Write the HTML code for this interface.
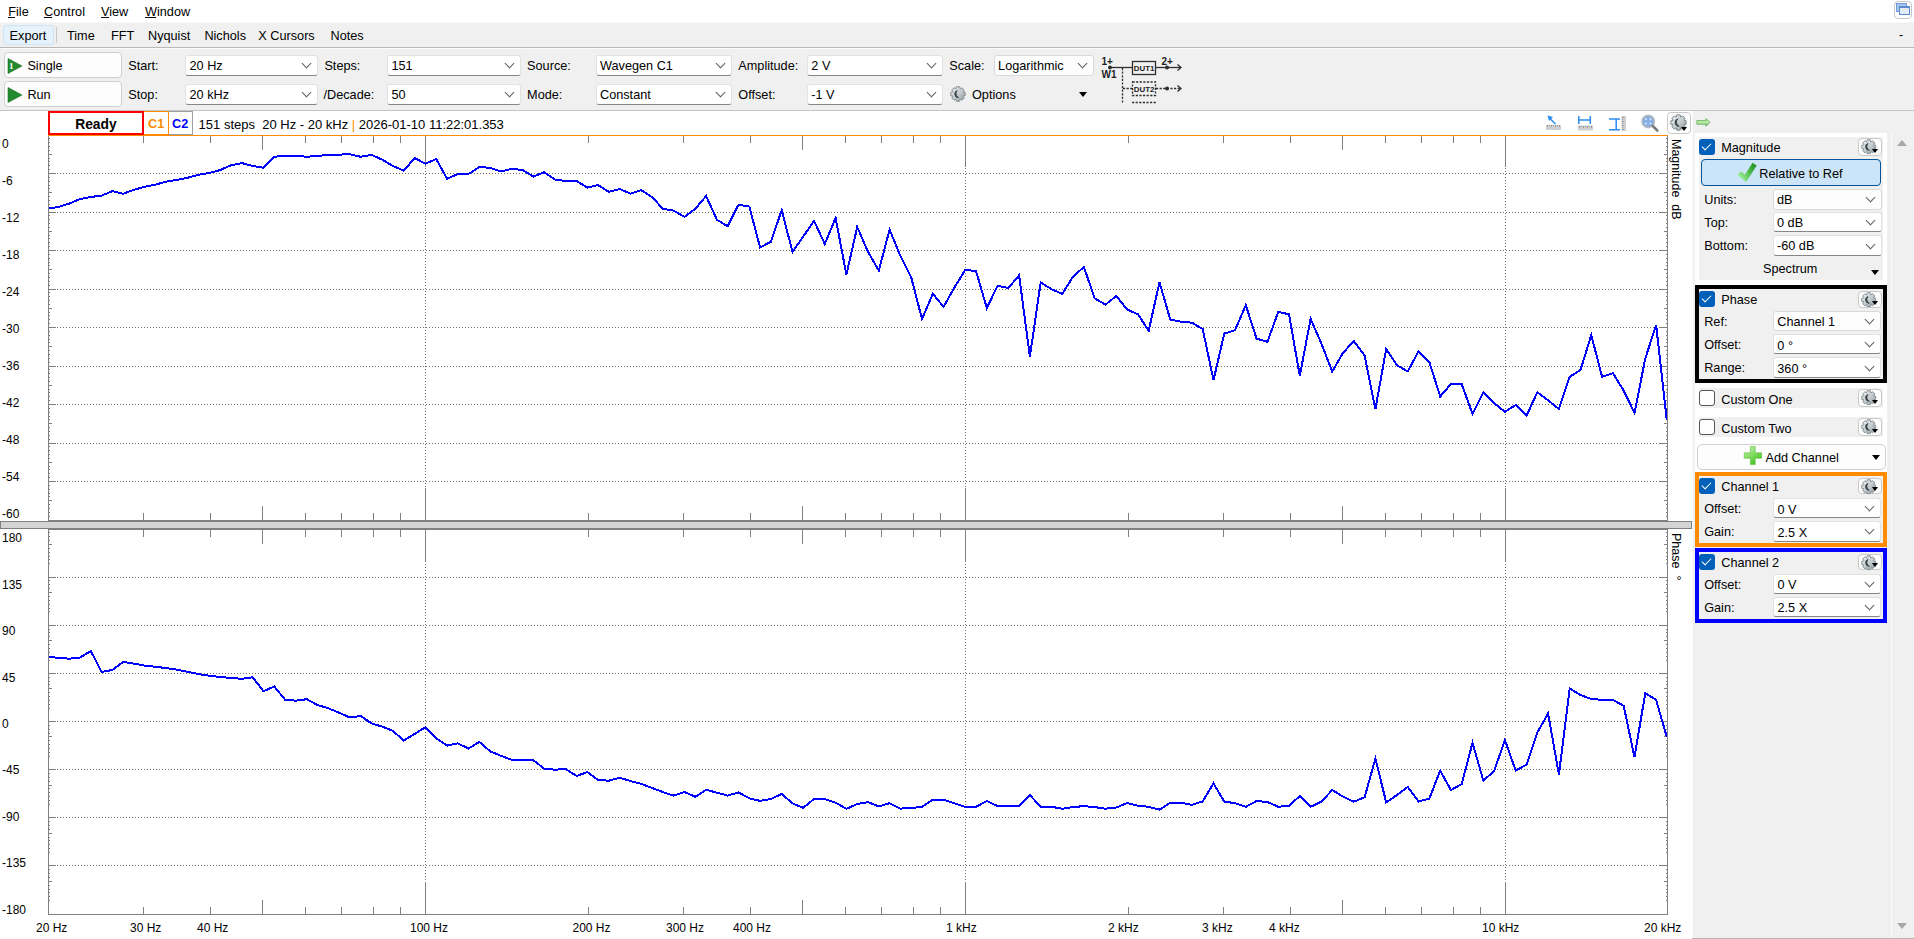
<!DOCTYPE html><html><head><meta charset="utf-8"><style>
*{margin:0;padding:0;box-sizing:border-box}
html,body{width:1914px;height:939px;overflow:hidden;background:#f0f0f0;font-family:"Liberation Sans", sans-serif;font-size:12.7px;color:#000}
.a{position:absolute}
.t{position:absolute;white-space:pre;line-height:13px;font-size:12.7px}
.cb{position:absolute;background:#fff;border:1px solid #e2e2e2;border-bottom:1px solid #868686;border-radius:3px}
.cbn{position:absolute;background:#fdfdfd;border:1px solid #d9d9d9;border-radius:3px}
.chev{position:absolute;width:7px;height:7px;border-right:1px solid #606060;border-bottom:1px solid #606060;transform:rotate(45deg)}
.btn{position:absolute;background:#fdfdfd;border:1px solid #d0d0d0;border-radius:4px}
.chk{position:absolute;width:16px;height:16px;background:#005fb8;border-radius:3px}
.chk::after{content:"";position:absolute;left:5px;top:2px;width:4px;height:8px;border-right:1.3px solid #fff;border-bottom:1.3px solid #fff;transform:rotate(45deg)}
.unchk{position:absolute;width:16px;height:16px;background:#fff;border:1px solid #555;border-radius:3px}
.grp{position:absolute;background:#f0f0f0}
.tri{position:absolute;width:0;height:0;border-left:4px solid transparent;border-right:4px solid transparent;border-top:5px solid #000}
</style></head><body><svg width="0" height="0" style="position:absolute"><defs>
<linearGradient id="gg" x1="0" y1="0" x2="1" y2="1"><stop offset="0" stop-color="#f2f4f5"/><stop offset="0.55" stop-color="#c3c8cb"/><stop offset="1" stop-color="#8d969b"/></linearGradient>
<symbol id="gear" viewBox="0 0 16 16"><path d="M13.24 6.03 L15.22 6.39 L15.22 9.61 L13.24 9.97 L13.10 10.31 L14.25 11.96 L11.96 14.25 L10.31 13.10 L9.97 13.24 L9.61 15.22 L6.39 15.22 L6.03 13.24 L5.69 13.10 L4.04 14.25 L1.75 11.96 L2.90 10.31 L2.76 9.97 L0.78 9.61 L0.78 6.39 L2.76 6.03 L2.90 5.69 L1.75 4.04 L4.04 1.75 L5.69 2.90 L6.03 2.76 L6.39 0.78 L9.61 0.78 L9.97 2.76 L10.31 2.90 L11.96 1.75 L14.25 4.04 L13.10 5.69 Z" fill="url(#gg)" stroke="#7b868c" stroke-width="0.9"/>
<path d="M7.2 4.6 A3.6 3.6 0 0 0 8.6 11.6 A4.4 4.4 0 0 1 7.2 4.6 Z" fill="#34444c" stroke="#34444c" stroke-width="0.9"/></symbol>
</defs></svg><div class="a" style="left:0;top:0;width:1914px;height:22px;background:#fff"></div><div class="a" style="left:0;top:22px;width:1914px;height:1px;background:#f7f7f7"></div><div class="t" style="left:8.3px;top:5.90px;font-size:12.7px;color:#000;font-weight:normal;">File</div><div class="a" style="left:8.3px;top:17px;width:7px;height:1px;background:#000"></div><div class="t" style="left:44.1px;top:5.90px;font-size:12.7px;color:#000;font-weight:normal;">Control</div><div class="a" style="left:44.1px;top:17px;width:8px;height:1px;background:#000"></div><div class="t" style="left:101px;top:5.90px;font-size:12.7px;color:#000;font-weight:normal;">View</div><div class="a" style="left:101px;top:17px;width:8px;height:1px;background:#000"></div><div class="t" style="left:145px;top:5.90px;font-size:12.7px;color:#000;font-weight:normal;">Window</div><div class="a" style="left:145px;top:17px;width:11px;height:1px;background:#000"></div><div class="a" style="left:1894px;top:1px;width:18px;height:18px;border:1px solid #c8c8c8;border-radius:4px;background:#fff"></div><div class="a" style="left:1896px;top:3px;width:11px;height:9px;background:#a9c4ea;border:1px solid #6f9ad8"></div><div class="a" style="left:1899px;top:6px;width:11px;height:9px;background:#e4ecf7;border:1px solid #5b8ad0;border-top:2px solid #5b8ad0"></div><div class="a" style="left:2.5px;top:24.5px;width:51px;height:20px;background:#e5f1fb;border:1px solid #cce4f7;border-radius:3px"></div><div class="a" style="left:56px;top:27px;width:1px;height:16px;background:#c8c8c8"></div><div class="t" style="left:9.6px;top:30.30px;font-size:12.7px;color:#000;font-weight:normal;">Export</div><div class="t" style="left:67px;top:30.30px;font-size:12.7px;color:#000;font-weight:normal;">Time</div><div class="t" style="left:111px;top:30.30px;font-size:12.7px;color:#000;font-weight:normal;">FFT</div><div class="t" style="left:148px;top:30.30px;font-size:12.7px;color:#000;font-weight:normal;">Nyquist</div><div class="t" style="left:204.4px;top:30.30px;font-size:12.7px;color:#000;font-weight:normal;">Nichols</div><div class="t" style="left:258.3px;top:30.30px;font-size:12.7px;color:#000;font-weight:normal;">X Cursors</div><div class="t" style="left:330.5px;top:30.30px;font-size:12.7px;color:#000;font-weight:normal;">Notes</div><div class="t" style="left:1899px;top:29.30px;font-size:12.7px;color:#000;font-weight:normal;">-</div><div class="a" style="left:0;top:47px;width:1914px;height:1px;background:#b9b9b9"></div><div class="a" style="left:0;top:48px;width:1914px;height:1px;background:#fbfbfb"></div><div class="btn" style="left:4px;top:52px;width:118px;height:26px"></div><svg class="a" style="left:7px;top:57.5px" width="16" height="16" viewBox="0 0 16 16"><path d="M1 0.5 L15 8 L1 15.5 Z" fill="#238a2e" stroke="#1a6e22" stroke-width="0.6"/><text x="2" y="11" font-family="Liberation Serif" font-weight="bold" font-size="9" fill="#fff">1</text></svg><div class="t" style="left:27.4px;top:59.90px;font-size:12.7px;color:#000;font-weight:normal;">Single</div><div class="btn" style="left:4px;top:81px;width:118px;height:26px"></div><svg class="a" style="left:7px;top:86.5px" width="16" height="16" viewBox="0 0 16 16"><path d="M1 0.5 L15 8 L1 15.5 Z" fill="#238a2e" stroke="#1a6e22" stroke-width="0.6"/></svg><div class="t" style="left:27.4px;top:88.90px;font-size:12.7px;color:#000;font-weight:normal;">Run</div><div class="t" style="left:128.3px;top:59.90px;font-size:12.7px;color:#000;font-weight:normal;">Start:</div><div class="t" style="left:128.3px;top:89.20px;font-size:12.7px;color:#000;font-weight:normal;">Stop:</div><div class="cb" style="left:185px;top:55px;width:133px;height:20.599999999999994px"></div><div class="t" style="left:189.5px;top:60.30px;font-size:12.7px;color:#000;font-weight:normal;">20 Hz</div><div class="chev" style="left:303px;top:60.3px"></div><div class="cb" style="left:185px;top:84px;width:133px;height:20.599999999999994px"></div><div class="t" style="left:189.5px;top:89.30px;font-size:12.7px;color:#000;font-weight:normal;">20 kHz</div><div class="chev" style="left:303px;top:89.3px"></div><div class="t" style="left:324.4px;top:59.90px;font-size:12.7px;color:#000;font-weight:normal;">Steps:</div><div class="t" style="left:323.5px;top:89.20px;font-size:12.7px;color:#000;font-weight:normal;">/Decade:</div><div class="cb" style="left:387px;top:55px;width:134px;height:20.599999999999994px"></div><div class="t" style="left:391.5px;top:60.30px;font-size:12.7px;color:#000;font-weight:normal;">151</div><div class="chev" style="left:506px;top:60.3px"></div><div class="cb" style="left:387px;top:84px;width:134px;height:20.599999999999994px"></div><div class="t" style="left:391.5px;top:89.30px;font-size:12.7px;color:#000;font-weight:normal;">50</div><div class="chev" style="left:506px;top:89.3px"></div><div class="t" style="left:527.1px;top:59.90px;font-size:12.7px;color:#000;font-weight:normal;">Source:</div><div class="t" style="left:527.1px;top:89.20px;font-size:12.7px;color:#000;font-weight:normal;">Mode:</div><div class="cb" style="left:595.5px;top:55px;width:136.5px;height:20.599999999999994px"></div><div class="t" style="left:600.0px;top:60.30px;font-size:12.7px;color:#000;font-weight:normal;">Wavegen C1</div><div class="chev" style="left:717px;top:60.3px"></div><div class="cb" style="left:595.5px;top:84px;width:136.5px;height:20.599999999999994px"></div><div class="t" style="left:600.0px;top:89.30px;font-size:12.7px;color:#000;font-weight:normal;">Constant</div><div class="chev" style="left:717px;top:89.3px"></div><div class="t" style="left:738.3px;top:59.90px;font-size:12.7px;color:#000;font-weight:normal;">Amplitude:</div><div class="t" style="left:738.3px;top:89.20px;font-size:12.7px;color:#000;font-weight:normal;">Offset:</div><div class="cb" style="left:806.8px;top:55px;width:136.0px;height:20.599999999999994px"></div><div class="t" style="left:811.3px;top:60.30px;font-size:12.7px;color:#000;font-weight:normal;">2 V</div><div class="chev" style="left:927.8px;top:60.3px"></div><div class="cb" style="left:806.8px;top:84px;width:136.0px;height:20.599999999999994px"></div><div class="t" style="left:811.3px;top:89.30px;font-size:12.7px;color:#000;font-weight:normal;">-1 V</div><div class="chev" style="left:927.8px;top:89.3px"></div><div class="t" style="left:949.3px;top:59.90px;font-size:12.7px;color:#000;font-weight:normal;">Scale:</div><div class="cbn" style="left:993.6px;top:54.5px;width:100.60000000000002px;height:21.099999999999994px"></div><div class="t" style="left:998.1px;top:59.80px;font-size:12.7px;color:#000;font-weight:normal;">Logarithmic</div><div class="chev" style="left:1079.2px;top:60.05px"></div><svg class="a" style="left:950px;top:86px" width="16" height="16" viewBox="0 0 16 16"><use href="#gear"/></svg><div class="t" style="left:972px;top:89.20px;font-size:12.7px;color:#000;font-weight:normal;">Options</div><div class="tri" style="left:1079px;top:92px"></div><svg class="a" style="left:1095px;top:50px" width="100" height="60" viewBox="0 0 100 60">
<g font-family="Liberation Sans" font-weight="bold" fill="#1e1e1e">
<text x="6.5" y="14.6" font-size="10">1+</text>
<text x="66.5" y="14.6" font-size="10">2+</text>
<text x="6.5" y="28.4" font-size="10">W1</text>
<text x="38.8" y="21.3" font-size="7.9">DUT1</text>
<text x="38.8" y="42.3" font-size="7.9">DUT2</text>
</g>
<g stroke="#2e2e2e" fill="none" stroke-width="1.3">
<line x1="15" y1="17.5" x2="37" y2="17.5"/>
<rect x="37.5" y="11.5" width="23" height="13"/>
<line x1="61" y1="17.5" x2="86" y2="17.5"/>
<path d="M82.5 14.5 L86 17.5 L82.5 20.5"/>
<g stroke-dasharray="2.2,1.4">
<line x1="27.5" y1="18" x2="27.5" y2="53"/>
<line x1="28" y1="38.5" x2="37" y2="38.5"/>
<rect x="37.5" y="32" width="23" height="13.5"/>
<line x1="61" y1="38.5" x2="86" y2="38.5"/>
<line x1="37" y1="52.5" x2="61" y2="52.5"/>
</g>
<path d="M82.5 35.5 L86 38.5 L82.5 41.5"/>
</g>
<circle cx="15" cy="17.5" r="2" fill="#2e2e2e"/><circle cx="72" cy="17.5" r="2" fill="#2e2e2e"/><circle cx="72" cy="38.5" r="2" fill="#2e2e2e"/>
</svg><div class="a" style="left:0;top:110px;width:1914px;height:1px;background:#c4c4c4"></div><div class="a" style="left:0;top:111px;width:1692px;height:828px;background:#fff"></div><svg class="a" style="left:0;top:0" width="1914" height="939" viewBox="0 0 1914 939"><text x="2" y="148.2" font-family="Liberation Sans" font-size="12">0</text><text x="2" y="185.2" font-family="Liberation Sans" font-size="12">-6</text><text x="2" y="222.2" font-family="Liberation Sans" font-size="12">-12</text><text x="2" y="259.2" font-family="Liberation Sans" font-size="12">-18</text><text x="2" y="296.2" font-family="Liberation Sans" font-size="12">-24</text><text x="2" y="333.2" font-family="Liberation Sans" font-size="12">-30</text><text x="2" y="370.2" font-family="Liberation Sans" font-size="12">-36</text><text x="2" y="407.2" font-family="Liberation Sans" font-size="12">-42</text><text x="2" y="444.2" font-family="Liberation Sans" font-size="12">-48</text><text x="2" y="481.2" font-family="Liberation Sans" font-size="12">-54</text><text x="2" y="518.2" font-family="Liberation Sans" font-size="12">-60</text><text x="2" y="542.4" font-family="Liberation Sans" font-size="12">180</text><text x="2" y="588.8" font-family="Liberation Sans" font-size="12">135</text><text x="2" y="635.2" font-family="Liberation Sans" font-size="12">90</text><text x="2" y="681.6" font-family="Liberation Sans" font-size="12">45</text><text x="2" y="728.0" font-family="Liberation Sans" font-size="12">0</text><text x="2" y="774.4" font-family="Liberation Sans" font-size="12">-45</text><text x="2" y="820.8" font-family="Liberation Sans" font-size="12">-90</text><text x="2" y="867.2" font-family="Liberation Sans" font-size="12">-135</text><text x="2" y="913.6" font-family="Liberation Sans" font-size="12">-180</text><path d="M48 173.5H1667 M48 212.5H1667 M48 250.5H1667 M48 289.5H1667 M48 327.5H1667 M48 366.5H1667 M48 404.5H1667 M48 443.5H1667 M48 481.5H1667 M425.5 138V520 M965.5 138V520 M1505.5 138V520 M48 577.5H1667 M48 625.5H1667 M48 673.5H1667 M48 721.5H1667 M48 769.5H1667 M48 817.5H1667 M48 865.5H1667 M425.5 531V914 M965.5 531V914 M1505.5 531V914" stroke="#6e6e6e" stroke-width="1" stroke-dasharray="1,2" fill="none" shape-rendering="crispEdges"/><path d="M48 173.5L56 173.5 M1659 173.5L1667 173.5 M48 212.5L56 212.5 M1659 212.5L1667 212.5 M48 250.5L56 250.5 M1659 250.5L1667 250.5 M48 289.5L56 289.5 M1659 289.5L1667 289.5 M48 327.5L56 327.5 M1659 327.5L1667 327.5 M48 366.5L56 366.5 M1659 366.5L1667 366.5 M48 404.5L56 404.5 M1659 404.5L1667 404.5 M48 443.5L56 443.5 M1659 443.5L1667 443.5 M48 481.5L56 481.5 M1659 481.5L1667 481.5 M48 138.5L50 138.5 M1666 138.5L1667 138.5 M48 142.5L50 142.5 M1666 142.5L1667 142.5 M48 146.5L50 146.5 M1666 146.5L1667 146.5 M48 150.5L50 150.5 M1666 150.5L1667 150.5 M48 154.5L52 154.5 M1664 154.5L1667 154.5 M48 158.5L50 158.5 M1666 158.5L1667 158.5 M48 161.5L50 161.5 M1666 161.5L1667 161.5 M48 165.5L50 165.5 M1666 165.5L1667 165.5 M48 169.5L50 169.5 M1666 169.5L1667 169.5 M48 177.5L50 177.5 M1666 177.5L1667 177.5 M48 181.5L50 181.5 M1666 181.5L1667 181.5 M48 185.5L50 185.5 M1666 185.5L1667 185.5 M48 188.5L50 188.5 M1666 188.5L1667 188.5 M48 192.5L52 192.5 M1664 192.5L1667 192.5 M48 196.5L50 196.5 M1666 196.5L1667 196.5 M48 200.5L50 200.5 M1666 200.5L1667 200.5 M48 204.5L50 204.5 M1666 204.5L1667 204.5 M48 208.5L50 208.5 M1666 208.5L1667 208.5 M48 215.5L50 215.5 M1666 215.5L1667 215.5 M48 219.5L50 219.5 M1666 219.5L1667 219.5 M48 223.5L50 223.5 M1666 223.5L1667 223.5 M48 227.5L50 227.5 M1666 227.5L1667 227.5 M48 231.5L52 231.5 M1664 231.5L1667 231.5 M48 235.5L50 235.5 M1666 235.5L1667 235.5 M48 238.5L50 238.5 M1666 238.5L1667 238.5 M48 242.5L50 242.5 M1666 242.5L1667 242.5 M48 246.5L50 246.5 M1666 246.5L1667 246.5 M48 254.5L50 254.5 M1666 254.5L1667 254.5 M48 258.5L50 258.5 M1666 258.5L1667 258.5 M48 262.5L50 262.5 M1666 262.5L1667 262.5 M48 265.5L50 265.5 M1666 265.5L1667 265.5 M48 269.5L52 269.5 M1664 269.5L1667 269.5 M48 273.5L50 273.5 M1666 273.5L1667 273.5 M48 277.5L50 277.5 M1666 277.5L1667 277.5 M48 281.5L50 281.5 M1666 281.5L1667 281.5 M48 285.5L50 285.5 M1666 285.5L1667 285.5 M48 292.5L50 292.5 M1666 292.5L1667 292.5 M48 296.5L50 296.5 M1666 296.5L1667 296.5 M48 300.5L50 300.5 M1666 300.5L1667 300.5 M48 304.5L50 304.5 M1666 304.5L1667 304.5 M48 308.5L52 308.5 M1664 308.5L1667 308.5 M48 312.5L50 312.5 M1666 312.5L1667 312.5 M48 315.5L50 315.5 M1666 315.5L1667 315.5 M48 319.5L50 319.5 M1666 319.5L1667 319.5 M48 323.5L50 323.5 M1666 323.5L1667 323.5 M48 331.5L50 331.5 M1666 331.5L1667 331.5 M48 335.5L50 335.5 M1666 335.5L1667 335.5 M48 339.5L50 339.5 M1666 339.5L1667 339.5 M48 342.5L50 342.5 M1666 342.5L1667 342.5 M48 346.5L52 346.5 M1664 346.5L1667 346.5 M48 350.5L50 350.5 M1666 350.5L1667 350.5 M48 354.5L50 354.5 M1666 354.5L1667 354.5 M48 358.5L50 358.5 M1666 358.5L1667 358.5 M48 362.5L50 362.5 M1666 362.5L1667 362.5 M48 369.5L50 369.5 M1666 369.5L1667 369.5 M48 373.5L50 373.5 M1666 373.5L1667 373.5 M48 377.5L50 377.5 M1666 377.5L1667 377.5 M48 381.5L50 381.5 M1666 381.5L1667 381.5 M48 385.5L52 385.5 M1664 385.5L1667 385.5 M48 389.5L50 389.5 M1666 389.5L1667 389.5 M48 392.5L50 392.5 M1666 392.5L1667 392.5 M48 396.5L50 396.5 M1666 396.5L1667 396.5 M48 400.5L50 400.5 M1666 400.5L1667 400.5 M48 408.5L50 408.5 M1666 408.5L1667 408.5 M48 412.5L50 412.5 M1666 412.5L1667 412.5 M48 416.5L50 416.5 M1666 416.5L1667 416.5 M48 419.5L50 419.5 M1666 419.5L1667 419.5 M48 423.5L52 423.5 M1664 423.5L1667 423.5 M48 427.5L50 427.5 M1666 427.5L1667 427.5 M48 431.5L50 431.5 M1666 431.5L1667 431.5 M48 435.5L50 435.5 M1666 435.5L1667 435.5 M48 439.5L50 439.5 M1666 439.5L1667 439.5 M48 446.5L50 446.5 M1666 446.5L1667 446.5 M48 450.5L50 450.5 M1666 450.5L1667 450.5 M48 454.5L50 454.5 M1666 454.5L1667 454.5 M48 458.5L50 458.5 M1666 458.5L1667 458.5 M48 462.5L52 462.5 M1664 462.5L1667 462.5 M48 466.5L50 466.5 M1666 466.5L1667 466.5 M48 469.5L50 469.5 M1666 469.5L1667 469.5 M48 473.5L50 473.5 M1666 473.5L1667 473.5 M48 477.5L50 477.5 M1666 477.5L1667 477.5 M48 485.5L50 485.5 M1666 485.5L1667 485.5 M48 489.5L50 489.5 M1666 489.5L1667 489.5 M48 493.5L50 493.5 M1666 493.5L1667 493.5 M48 496.5L50 496.5 M1666 496.5L1667 496.5 M48 500.5L52 500.5 M1664 500.5L1667 500.5 M48 504.5L50 504.5 M1666 504.5L1667 504.5 M48 508.5L50 508.5 M1666 508.5L1667 508.5 M48 512.5L50 512.5 M1666 512.5L1667 512.5 M48 516.5L50 516.5 M1666 516.5L1667 516.5 M48.5 135L48.5 521 M1667.5 135L1667.5 521 M143.5 135L143.5 143 M143.5 513L143.5 521 M210.5 135L210.5 143 M210.5 513L210.5 521 M262.5 135L262.5 150 M262.5 506L262.5 521 M305.5 135L305.5 143 M305.5 513L305.5 521 M341.5 135L341.5 143 M341.5 513L341.5 521 M373.5 135L373.5 143 M373.5 513L373.5 521 M400.5 135L400.5 143 M400.5 513L400.5 521 M425.5 135L425.5 167 M425.5 488L425.5 521 M588.5 135L588.5 143 M588.5 513L588.5 521 M683.5 135L683.5 143 M683.5 513L683.5 521 M750.5 135L750.5 143 M750.5 513L750.5 521 M802.5 135L802.5 150 M802.5 506L802.5 521 M845.5 135L845.5 143 M845.5 513L845.5 521 M881.5 135L881.5 143 M881.5 513L881.5 521 M913.5 135L913.5 143 M913.5 513L913.5 521 M940.5 135L940.5 143 M940.5 513L940.5 521 M965.5 135L965.5 167 M965.5 488L965.5 521 M1128.5 135L1128.5 143 M1128.5 513L1128.5 521 M1223.5 135L1223.5 143 M1223.5 513L1223.5 521 M1290.5 135L1290.5 143 M1290.5 513L1290.5 521 M1342.5 135L1342.5 150 M1342.5 506L1342.5 521 M1385.5 135L1385.5 143 M1385.5 513L1385.5 521 M1421.5 135L1421.5 143 M1421.5 513L1421.5 521 M1453.5 135L1453.5 143 M1453.5 513L1453.5 521 M1480.5 135L1480.5 143 M1480.5 513L1480.5 521 M1505.5 135L1505.5 167 M1505.5 488L1505.5 521 M48 577.5L56 577.5 M1659 577.5L1667 577.5 M48 625.5L56 625.5 M1659 625.5L1667 625.5 M48 673.5L56 673.5 M1659 673.5L1667 673.5 M48 721.5L56 721.5 M1659 721.5L1667 721.5 M48 769.5L56 769.5 M1659 769.5L1667 769.5 M48 817.5L56 817.5 M1659 817.5L1667 817.5 M48 865.5L56 865.5 M1659 865.5L1667 865.5 M48 532.5L50 532.5 M1666 532.5L1667 532.5 M48 536.5L50 536.5 M1666 536.5L1667 536.5 M48 540.5L50 540.5 M1666 540.5L1667 540.5 M48 544.5L52 544.5 M1664 544.5L1667 544.5 M48 548.5L50 548.5 M1666 548.5L1667 548.5 M48 552.5L50 552.5 M1666 552.5L1667 552.5 M48 556.5L50 556.5 M1666 556.5L1667 556.5 M48 559.5L50 559.5 M1666 559.5L1667 559.5 M48 563.5L50 563.5 M1666 563.5L1667 563.5 M48 580.5L50 580.5 M1666 580.5L1667 580.5 M48 584.5L50 584.5 M1666 584.5L1667 584.5 M48 588.5L50 588.5 M1666 588.5L1667 588.5 M48 592.5L52 592.5 M1664 592.5L1667 592.5 M48 596.5L50 596.5 M1666 596.5L1667 596.5 M48 600.5L50 600.5 M1666 600.5L1667 600.5 M48 604.5L50 604.5 M1666 604.5L1667 604.5 M48 608.5L50 608.5 M1666 608.5L1667 608.5 M48 611.5L50 611.5 M1666 611.5L1667 611.5 M48 629.5L50 629.5 M1666 629.5L1667 629.5 M48 632.5L50 632.5 M1666 632.5L1667 632.5 M48 636.5L50 636.5 M1666 636.5L1667 636.5 M48 640.5L52 640.5 M1664 640.5L1667 640.5 M48 644.5L50 644.5 M1666 644.5L1667 644.5 M48 648.5L50 648.5 M1666 648.5L1667 648.5 M48 652.5L50 652.5 M1666 652.5L1667 652.5 M48 656.5L50 656.5 M1666 656.5L1667 656.5 M48 660.5L50 660.5 M1666 660.5L1667 660.5 M48 677.5L50 677.5 M1666 677.5L1667 677.5 M48 681.5L50 681.5 M1666 681.5L1667 681.5 M48 684.5L50 684.5 M1666 684.5L1667 684.5 M48 688.5L52 688.5 M1664 688.5L1667 688.5 M48 692.5L50 692.5 M1666 692.5L1667 692.5 M48 696.5L50 696.5 M1666 696.5L1667 696.5 M48 700.5L50 700.5 M1666 700.5L1667 700.5 M48 704.5L50 704.5 M1666 704.5L1667 704.5 M48 708.5L50 708.5 M1666 708.5L1667 708.5 M48 725.5L50 725.5 M1666 725.5L1667 725.5 M48 729.5L50 729.5 M1666 729.5L1667 729.5 M48 733.5L50 733.5 M1666 733.5L1667 733.5 M48 736.5L52 736.5 M1664 736.5L1667 736.5 M48 740.5L50 740.5 M1666 740.5L1667 740.5 M48 744.5L50 744.5 M1666 744.5L1667 744.5 M48 748.5L50 748.5 M1666 748.5L1667 748.5 M48 752.5L50 752.5 M1666 752.5L1667 752.5 M48 756.5L50 756.5 M1666 756.5L1667 756.5 M48 773.5L50 773.5 M1666 773.5L1667 773.5 M48 777.5L50 777.5 M1666 777.5L1667 777.5 M48 781.5L50 781.5 M1666 781.5L1667 781.5 M48 785.5L52 785.5 M1664 785.5L1667 785.5 M48 788.5L50 788.5 M1666 788.5L1667 788.5 M48 792.5L50 792.5 M1666 792.5L1667 792.5 M48 796.5L50 796.5 M1666 796.5L1667 796.5 M48 800.5L50 800.5 M1666 800.5L1667 800.5 M48 804.5L50 804.5 M1666 804.5L1667 804.5 M48 821.5L50 821.5 M1666 821.5L1667 821.5 M48 825.5L50 825.5 M1666 825.5L1667 825.5 M48 829.5L50 829.5 M1666 829.5L1667 829.5 M48 833.5L52 833.5 M1664 833.5L1667 833.5 M48 837.5L50 837.5 M1666 837.5L1667 837.5 M48 840.5L50 840.5 M1666 840.5L1667 840.5 M48 844.5L50 844.5 M1666 844.5L1667 844.5 M48 848.5L50 848.5 M1666 848.5L1667 848.5 M48 852.5L50 852.5 M1666 852.5L1667 852.5 M48 869.5L50 869.5 M1666 869.5L1667 869.5 M48 873.5L50 873.5 M1666 873.5L1667 873.5 M48 877.5L50 877.5 M1666 877.5L1667 877.5 M48 881.5L52 881.5 M1664 881.5L1667 881.5 M48 885.5L50 885.5 M1666 885.5L1667 885.5 M48 889.5L50 889.5 M1666 889.5L1667 889.5 M48 892.5L50 892.5 M1666 892.5L1667 892.5 M48 896.5L50 896.5 M1666 896.5L1667 896.5 M48 900.5L50 900.5 M1666 900.5L1667 900.5 M48.5 529L48.5 915 M1667.5 529L1667.5 915 M143.5 529L143.5 537 M143.5 907L143.5 915 M210.5 529L210.5 537 M210.5 907L210.5 915 M262.5 529L262.5 544 M262.5 900L262.5 915 M305.5 529L305.5 537 M305.5 907L305.5 915 M341.5 529L341.5 537 M341.5 907L341.5 915 M373.5 529L373.5 537 M373.5 907L373.5 915 M400.5 529L400.5 537 M400.5 907L400.5 915 M425.5 529L425.5 561 M425.5 882L425.5 915 M588.5 529L588.5 537 M588.5 907L588.5 915 M683.5 529L683.5 537 M683.5 907L683.5 915 M750.5 529L750.5 537 M750.5 907L750.5 915 M802.5 529L802.5 544 M802.5 900L802.5 915 M845.5 529L845.5 537 M845.5 907L845.5 915 M881.5 529L881.5 537 M881.5 907L881.5 915 M913.5 529L913.5 537 M913.5 907L913.5 915 M940.5 529L940.5 537 M940.5 907L940.5 915 M965.5 529L965.5 561 M965.5 882L965.5 915 M1128.5 529L1128.5 537 M1128.5 907L1128.5 915 M1223.5 529L1223.5 537 M1223.5 907L1223.5 915 M1290.5 529L1290.5 537 M1290.5 907L1290.5 915 M1342.5 529L1342.5 544 M1342.5 900L1342.5 915 M1385.5 529L1385.5 537 M1385.5 907L1385.5 915 M1421.5 529L1421.5 537 M1421.5 907L1421.5 915 M1453.5 529L1453.5 537 M1453.5 907L1453.5 915 M1480.5 529L1480.5 537 M1480.5 907L1480.5 915 M1505.5 529L1505.5 561 M1505.5 882L1505.5 915 M48 914.5L1668 914.5 M48 520.5L1668 520.5 M48 529.5L1668 529.5" stroke="#808080" stroke-width="1" fill="none" shape-rendering="crispEdges"/><rect x="48" y="135" width="1620" height="1" fill="#ff8c00"/><rect x="0.5" y="521.5" width="1691" height="7" fill="#d4d4d4" stroke="#808080" stroke-width="1" shape-rendering="crispEdges"/><text x="36" y="931.5" font-family="Liberation Sans" font-size="12">20 Hz</text><text x="130" y="931.5" font-family="Liberation Sans" font-size="12">30 Hz</text><text x="197" y="931.5" font-family="Liberation Sans" font-size="12">40 Hz</text><text x="410" y="931.5" font-family="Liberation Sans" font-size="12">100 Hz</text><text x="572.5" y="931.5" font-family="Liberation Sans" font-size="12">200 Hz</text><text x="666" y="931.5" font-family="Liberation Sans" font-size="12">300 Hz</text><text x="733" y="931.5" font-family="Liberation Sans" font-size="12">400 Hz</text><text x="946" y="931.5" font-family="Liberation Sans" font-size="12">1 kHz</text><text x="1108" y="931.5" font-family="Liberation Sans" font-size="12">2 kHz</text><text x="1202" y="931.5" font-family="Liberation Sans" font-size="12">3 kHz</text><text x="1269" y="931.5" font-family="Liberation Sans" font-size="12">4 kHz</text><text x="1482" y="931.5" font-family="Liberation Sans" font-size="12">10 kHz</text><text x="1644" y="931.5" font-family="Liberation Sans" font-size="12">20 kHz</text><text transform="translate(1671.5,139) rotate(90)" font-family="Liberation Sans" font-size="12.5">Magnitude&#160;&#160;dB</text><text transform="translate(1671.5,533) rotate(90)" font-family="Liberation Sans" font-size="12.5">Phase&#160;&#160;°</text><defs><clipPath id="cp1"><rect x="49" y="136" width="1618" height="384"/></clipPath><clipPath id="cp2"><rect x="49" y="530" width="1618" height="384"/></clipPath></defs><polyline clip-path="url(#cp1)" points="47.6,208.8 58.4,207.0 69.2,203.6 80.0,199.0 90.8,197.0 101.6,195.6 112.4,191.2 123.2,193.8 134.0,189.7 144.8,186.8 155.6,184.6 166.3,181.7 177.1,179.8 187.9,177.7 198.7,174.8 209.5,172.9 220.3,170.0 231.1,165.2 241.9,163.1 252.7,166.0 263.5,167.8 274.3,156.8 285.1,155.8 295.9,155.8 306.7,156.8 317.5,155.8 328.3,155.1 339.1,154.6 349.9,154.2 360.7,156.8 371.5,154.9 382.2,159.7 393.0,166.0 403.8,170.7 414.6,158.0 425.4,163.7 436.2,159.0 447.0,178.8 457.8,174.1 468.6,173.9 479.4,167.1 490.2,167.8 501.0,171.5 511.8,168.8 522.6,170.0 533.4,176.6 544.2,172.2 555.0,179.5 565.8,181.0 576.6,181.0 587.4,187.6 598.1,185.1 608.9,191.9 619.7,189.0 630.5,193.7 641.3,190.2 652.1,197.1 662.9,208.8 673.7,210.7 684.5,216.8 695.3,208.8 706.1,196.0 716.9,219.7 727.7,226.3 738.5,204.8 749.3,206.6 760.1,247.5 770.9,241.7 781.7,210.2 792.5,251.9 803.2,236.6 814.0,220.9 824.8,243.9 835.6,218.0 846.4,274.6 857.2,227.0 868.0,251.8 878.8,270.5 889.6,229.6 900.4,256.0 911.2,277.3 922.0,319.1 932.8,293.8 943.6,306.8 954.4,287.5 965.2,270.0 976.0,271.0 986.8,308.0 997.6,285.8 1008.4,288.0 1019.1,275.3 1029.9,356.6 1040.7,282.4 1051.5,289.2 1062.3,293.8 1073.1,276.5 1083.9,267.1 1094.7,298.3 1105.5,304.6 1116.3,296.0 1127.1,309.5 1137.9,314.2 1148.7,330.7 1159.5,282.2 1170.3,319.6 1181.1,321.7 1191.9,322.7 1202.7,329.0 1213.5,380.1 1224.3,333.6 1235.0,330.2 1245.8,305.2 1256.6,338.7 1267.4,341.8 1278.2,312.0 1289.0,314.2 1299.8,375.9 1310.6,318.8 1321.4,343.5 1332.2,371.6 1343.0,352.9 1353.8,341.0 1364.6,355.4 1375.4,409.1 1386.2,349.0 1397.0,365.4 1407.8,371.4 1418.6,351.2 1429.4,362.2 1440.2,396.5 1450.9,384.1 1461.7,384.1 1472.5,413.8 1483.3,392.2 1494.1,403.1 1504.9,411.9 1515.7,405.0 1526.5,415.9 1537.3,392.2 1548.1,400.2 1558.9,409.0 1569.7,376.8 1580.5,369.9 1591.3,335.1 1602.1,376.8 1612.9,373.1 1623.7,390.7 1634.5,412.9 1645.3,358.5 1656.1,324.9 1666.8,420.0" fill="none" stroke="#0000ff" stroke-width="2" stroke-linejoin="miter" shape-rendering="crispEdges"/><polyline clip-path="url(#cp2)" points="47.6,656.8 58.4,657.8 69.2,658.7 80.0,657.6 90.8,651.0 101.6,671.9 112.4,670.0 123.2,661.9 134.0,663.7 144.8,665.6 155.6,666.8 166.3,668.1 177.1,669.7 187.9,671.9 198.7,674.1 209.5,675.8 220.3,677.0 231.1,678.0 241.9,678.8 252.7,677.3 263.5,691.2 274.3,686.5 285.1,699.7 295.9,700.7 306.7,699.2 317.5,705.0 328.3,708.3 339.1,712.7 349.9,717.5 360.7,716.0 371.5,723.4 382.2,726.6 393.0,731.0 403.8,740.5 414.6,733.9 425.4,727.3 436.2,738.3 447.0,745.6 457.8,743.4 468.6,748.5 479.4,741.9 490.2,751.4 501.0,755.8 511.8,759.9 522.6,759.9 533.4,760.2 544.2,768.7 555.0,769.7 565.8,769.0 576.6,776.0 587.4,772.0 598.1,780.0 608.9,780.7 619.7,777.8 630.5,781.0 641.3,783.9 652.1,788.0 662.9,792.1 673.7,795.6 684.5,792.1 695.3,796.8 706.1,789.8 716.9,792.7 727.7,795.6 738.5,792.4 749.3,798.3 760.1,800.9 770.9,799.0 781.7,793.9 792.5,803.4 803.2,807.8 814.0,799.0 824.8,799.0 835.6,802.7 846.4,808.8 857.2,804.0 868.0,802.1 878.8,806.5 889.6,803.2 900.4,808.6 911.2,808.0 922.0,806.8 932.8,799.8 943.6,799.8 954.4,803.2 965.2,806.8 976.0,806.8 986.8,801.0 997.6,806.1 1008.4,806.1 1019.1,806.1 1029.9,795.1 1040.7,806.8 1051.5,806.8 1062.3,808.7 1073.1,807.1 1083.9,806.1 1094.7,807.1 1105.5,808.7 1116.3,807.5 1127.1,803.1 1137.9,805.8 1148.7,806.8 1159.5,809.7 1170.3,802.8 1181.1,802.8 1191.9,804.9 1202.7,801.4 1213.5,783.4 1224.3,801.7 1235.0,803.1 1245.8,806.8 1256.6,801.0 1267.4,802.0 1278.2,806.8 1289.0,805.8 1299.8,796.1 1310.6,806.8 1321.4,801.7 1332.2,790.0 1343.0,796.6 1353.8,801.7 1364.6,797.3 1375.4,758.5 1386.2,802.4 1397.0,795.0 1407.8,787.0 1418.6,801.5 1429.4,798.5 1440.2,770.6 1450.9,790.0 1461.7,784.1 1472.5,742.8 1483.3,780.6 1494.1,771.1 1504.9,740.1 1515.7,770.6 1526.5,764.7 1537.3,732.6 1548.1,713.5 1558.9,774.4 1569.7,688.6 1580.5,695.0 1591.3,699.1 1602.1,699.8 1612.9,699.8 1623.7,705.8 1634.5,757.2 1645.3,693.1 1656.1,699.8 1666.8,737.1" fill="none" stroke="#0000ff" stroke-width="2" stroke-linejoin="miter" shape-rendering="crispEdges"/></svg><div class="a" style="left:48px;top:111px;width:96px;height:24px;border:2px solid #ff0000"></div><div class="t" style="left:75.2px;top:117.94px;font-size:13.8px;color:#000;font-weight:bold;">Ready</div><div class="a" style="left:144px;top:111px;width:25px;height:24px;border:1px solid #ff8c00;border-left:none"></div><div class="t" style="left:148px;top:118.30px;font-size:12.7px;color:#ff8c00;font-weight:bold;">C1</div><div class="a" style="left:168px;top:111px;width:25px;height:24px;border:1px solid #a0a0a0;border-left:1px solid #ff8c00"></div><div class="t" style="left:172px;top:118.30px;font-size:12.7px;color:#0000ff;font-weight:bold;">C2</div><div class="t" style="left:198.6px;top:118.20px;font-size:13px;color:#000;font-weight:normal;">151 steps  20 Hz - 20 kHz <span style="color:#ff8c00">|</span> 2026-01-10 11:22:01.353</div><svg class="a" style="left:1540px;top:110px" width="125" height="24" viewBox="0 0 125 24">
<g fill="#cfcfcf"><rect x="6" y="15" width="15" height="5"/><rect x="38" y="15.5" width="15" height="5"/><rect x="81.5" y="6" width="4.5" height="15"/></g>
<g stroke="#9a9a9a" stroke-width="1" shape-rendering="crispEdges">
<path d="M7.5 15V17 M9.5 15V16 M11.5 15V17 M13.5 15V16 M15.5 15V17 M17.5 15V16 M19.5 15V17"/>
<path d="M39.5 15.5V17.5 M41.5 15.5V16.5 M43.5 15.5V17.5 M45.5 15.5V16.5 M47.5 15.5V17.5 M49.5 15.5V16.5 M51.5 15.5V17.5"/>
<path d="M81.5 7.5H83.5 M81.5 9.5H82.5 M81.5 11.5H83.5 M81.5 13.5H82.5 M81.5 15.5H83.5 M81.5 17.5H82.5 M81.5 19.5H83.5"/>
</g>
<g stroke="#2b8cf0" stroke-width="1.5" fill="none">
<path d="M9 7.5 L15.5 14"/>
<path d="M38.8 6 V14 M50.3 6 V14 M38.8 10 H50.3"/>
<path d="M69 9 H80 M69 19.8 H80 M76.2 9 V19.8"/>
</g>
<path d="M7.5 5.5 L13 7 L9 11 Z" fill="#2b8cf0"/>
<circle cx="108.2" cy="11.4" r="6.2" fill="#86aee6" stroke="#b9bcbf" stroke-width="1.6"/>
<g fill="#dce9fa"><circle cx="106" cy="9.2" r="1"/><circle cx="110.4" cy="9.2" r="1"/><circle cx="106" cy="13.6" r="1"/><circle cx="110.4" cy="13.6" r="1"/></g>
<path d="M112.8 16 L117.3 20.5" stroke="#7c7c7c" stroke-width="2.6" stroke-linecap="round"/>
</svg><div class="btn" style="left:1667px;top:112px;width:24px;height:22px;border-radius:4px;border-color:#c9c9c9"></div><svg class="a" style="left:1670px;top:114px" width="17" height="17" viewBox="0 0 16 16"><use href="#gear"/></svg><div class="tri" style="left:1681px;top:127px;border-left-width:3.5px;border-right-width:3.5px;border-top-width:4px"></div><div class="a" style="left:1692px;top:111px;width:222px;height:828px;background:#f0f0f0;border-left:1px solid #fafafa"></div><svg class="a" style="left:1696px;top:118px" width="16" height="10" viewBox="0 0 16 10"><defs><linearGradient id="ag" x1="0" y1="0" x2="0" y2="1"><stop offset="0" stop-color="#8fd97f"/><stop offset="0.5" stop-color="#b9ecac"/><stop offset="1" stop-color="#5fb64d"/></linearGradient></defs><path d="M0.8 2.5 H9.8 V0.6 L14.2 4.4 L9.8 8.2 V6.3 H0.8 Z" fill="url(#ag)" stroke="#3f8f35" stroke-width="0.5" stroke-linejoin="round"/></svg><div class="a" style="left:1692px;top:938px;width:222px;height:1px;background:#b4b4b4"></div><div class="a" style="left:1891px;top:133px;width:1px;height:805px;background:#fafafa"></div><svg class="a" style="left:1896px;top:138px" width="12" height="10"><path d="M1 8 L6 2 L11 8 Z" fill="#a8a8a8"/></svg><svg class="a" style="left:1896px;top:921px" width="12" height="10"><path d="M1 2 L6 8 L11 2 Z" fill="#a8a8a8"/></svg><div class="a" style="left:1695px;top:133px;width:192px;height:340px;background:#fff"></div><div class="grp" style="left:1699px;top:137px;width:184px;height:143px"></div><div class="chk" style="left:1699px;top:139px"></div><div class="t" style="left:1721.2px;top:141.90px;font-size:12.7px;color:#000;font-weight:normal;">Magnitude</div><div class="btn" style="left:1858px;top:138px;width:24px;height:18px;border-radius:4px;border-color:#c9c9c9"></div><svg class="a" style="left:1861px;top:139px" width="15.5" height="15.5" viewBox="0 0 16 16"><use href="#gear"/></svg><div class="tri" style="left:1872px;top:149px;border-left-width:3.5px;border-right-width:3.5px;border-top-width:4px"></div><div class="a" style="left:1701px;top:159px;width:180px;height:27px;background:#cce4f7;border:1px solid #005499;border-radius:4px"></div><svg class="a" style="left:1736px;top:161px" width="22" height="22" viewBox="0 0 22 22"><defs><linearGradient id="cg" gradientUnits="userSpaceOnUse" x1="2" y1="14" x2="19" y2="3"><stop offset="0" stop-color="#9ef09a"/><stop offset="0.5" stop-color="#55c055"/><stop offset="1" stop-color="#22921f"/></linearGradient></defs><path d="M3.2 12.2 L9.6 17.4 L18.6 3.2" fill="none" stroke="url(#cg)" stroke-width="5" stroke-linejoin="miter" stroke-miterlimit="3"/></svg><div class="t" style="left:1759.3px;top:168.10px;font-size:12.7px;color:#000;font-weight:normal;">Relative to Ref</div><div class="t" style="left:1704.3px;top:194.30px;font-size:12.7px;color:#000;font-weight:normal;">Units:</div><div class="cbn" style="left:1772.5px;top:189px;width:109.0px;height:20.5px"></div><div class="t" style="left:1777.0px;top:194.30px;font-size:12.7px;color:#000;font-weight:normal;">dB</div><div class="chev" style="left:1866.5px;top:194.25px"></div><div class="t" style="left:1704.3px;top:217.30px;font-size:12.7px;color:#000;font-weight:normal;">Top:</div><div class="cb" style="left:1772.5px;top:212px;width:109.0px;height:20.19999999999999px"></div><div class="t" style="left:1777.0px;top:217.30px;font-size:12.7px;color:#000;font-weight:normal;">0 dB</div><div class="chev" style="left:1866.5px;top:217.1px"></div><div class="t" style="left:1704.3px;top:240.30px;font-size:12.7px;color:#000;font-weight:normal;">Bottom:</div><div class="cb" style="left:1772.5px;top:235px;width:109.0px;height:21px"></div><div class="t" style="left:1777.0px;top:240.30px;font-size:12.7px;color:#000;font-weight:normal;">-60 dB</div><div class="chev" style="left:1866.5px;top:240.5px"></div><div class="t" style="left:1763px;top:262.90px;font-size:12.7px;color:#000;font-weight:normal;">Spectrum</div><div class="tri" style="left:1871px;top:270px"></div><div class="a" style="left:1695px;top:285px;width:192px;height:98px;border:4px solid #000;background:#f0f0f0"></div><div class="chk" style="left:1699px;top:291px"></div><div class="t" style="left:1721.3px;top:293.90px;font-size:12.7px;color:#000;font-weight:normal;">Phase</div><div class="btn" style="left:1858px;top:291px;width:24px;height:17px;border-radius:4px;border-color:#c9c9c9"></div><svg class="a" style="left:1861px;top:292px" width="15.5" height="15.5" viewBox="0 0 16 16"><use href="#gear"/></svg><div class="tri" style="left:1872px;top:301px;border-left-width:3.5px;border-right-width:3.5px;border-top-width:4px"></div><div class="t" style="left:1704.2px;top:315.70px;font-size:12.7px;color:#000;font-weight:normal;">Ref:</div><div class="cbn" style="left:1772.8px;top:310.7px;width:108.5px;height:20.400000000000034px"></div><div class="t" style="left:1777.3px;top:316.00px;font-size:12.7px;color:#000;font-weight:normal;">Channel 1</div><div class="chev" style="left:1866.3px;top:315.9px"></div><div class="t" style="left:1704.2px;top:338.90px;font-size:12.7px;color:#000;font-weight:normal;">Offset:</div><div class="cb" style="left:1772.8px;top:334.3px;width:108.5px;height:20.19999999999999px"></div><div class="t" style="left:1777.3px;top:339.60px;font-size:12.7px;color:#000;font-weight:normal;">0 °</div><div class="chev" style="left:1866.3px;top:339.4px"></div><div class="t" style="left:1704.2px;top:362.00px;font-size:12.7px;color:#000;font-weight:normal;">Range:</div><div class="cb" style="left:1772.8px;top:357.3px;width:108.5px;height:20.5px"></div><div class="t" style="left:1777.3px;top:362.60px;font-size:12.7px;color:#000;font-weight:normal;">360 °</div><div class="chev" style="left:1866.3px;top:362.55px"></div><div class="grp" style="left:1699px;top:388px;width:184px;height:20px"></div><div class="unchk" style="left:1699px;top:390px"></div><div class="t" style="left:1721.3px;top:393.50px;font-size:12.7px;color:#000;font-weight:normal;">Custom One</div><div class="btn" style="left:1858px;top:389px;width:24px;height:18px;border-radius:4px;border-color:#c9c9c9"></div><svg class="a" style="left:1861px;top:390px" width="15.5" height="15.5" viewBox="0 0 16 16"><use href="#gear"/></svg><div class="tri" style="left:1872px;top:400px;border-left-width:3.5px;border-right-width:3.5px;border-top-width:4px"></div><div class="grp" style="left:1699px;top:417px;width:184px;height:20px"></div><div class="unchk" style="left:1699px;top:419px"></div><div class="t" style="left:1721.3px;top:422.50px;font-size:12.7px;color:#000;font-weight:normal;">Custom Two</div><div class="btn" style="left:1858px;top:418px;width:24px;height:18px;border-radius:4px;border-color:#c9c9c9"></div><svg class="a" style="left:1861px;top:419px" width="15.5" height="15.5" viewBox="0 0 16 16"><use href="#gear"/></svg><div class="tri" style="left:1872px;top:429px;border-left-width:3.5px;border-right-width:3.5px;border-top-width:4px"></div><div class="btn" style="left:1696.5px;top:443.5px;width:189px;height:26px;border-radius:5px"></div><svg class="a" style="left:1743px;top:445px" width="20" height="21" viewBox="0 0 20 21"><defs><linearGradient id="pg" x1="0" y1="0" x2="0.6" y2="1"><stop offset="0" stop-color="#c6f7b4"/><stop offset="0.45" stop-color="#8fe070"/><stop offset="1" stop-color="#46c21e"/></linearGradient></defs><path d="M7.4 1.5 H12.2 V7.8 H18.6 V13.2 H12.2 V19.6 H7.4 V13.2 H1.2 V7.8 H7.4 Z" fill="url(#pg)" stroke="#5bbf3c" stroke-width="0.6" stroke-linejoin="round"/></svg><div class="t" style="left:1765.5px;top:451.50px;font-size:12.7px;color:#000;font-weight:normal;">Add Channel</div><div class="tri" style="left:1871.5px;top:454.5px"></div><div class="a" style="left:1695px;top:472.3px;width:192px;height:74.40000000000003px;border:4px solid #ff8c00;background:#f0f0f0"></div><div class="chk" style="left:1699px;top:478.3px"></div><div class="t" style="left:1721.3px;top:481.10px;font-size:12.7px;color:#000;font-weight:normal;">Channel 1</div><div class="btn" style="left:1858px;top:478px;width:24px;height:16px;border-radius:4px;border-color:#c9c9c9"></div><svg class="a" style="left:1861px;top:479px" width="15.5" height="15.5" viewBox="0 0 16 16"><use href="#gear"/></svg><div class="tri" style="left:1872px;top:487px;border-left-width:3.5px;border-right-width:3.5px;border-top-width:4px"></div><div class="t" style="left:1704.2px;top:503.20px;font-size:12.7px;color:#000;font-weight:normal;">Offset:</div><div class="cb" style="left:1773px;top:498.3px;width:108px;height:19.999999999999943px"></div><div class="t" style="left:1777.5px;top:503.60px;font-size:12.7px;color:#000;font-weight:normal;">0 V</div><div class="chev" style="left:1866px;top:503.29999999999995px"></div><div class="t" style="left:1704.2px;top:526.20px;font-size:12.7px;color:#000;font-weight:normal;">Gain:</div><div class="cb" style="left:1773px;top:521.3px;width:108px;height:20.300000000000068px"></div><div class="t" style="left:1777.5px;top:526.60px;font-size:12.7px;color:#000;font-weight:normal;">2.5 X</div><div class="chev" style="left:1866px;top:526.45px"></div><div class="a" style="left:1695px;top:548px;width:192px;height:75px;border:4px solid #0000ff;background:#f0f0f0"></div><div class="chk" style="left:1699px;top:554px"></div><div class="t" style="left:1721.3px;top:556.80px;font-size:12.7px;color:#000;font-weight:normal;">Channel 2</div><div class="btn" style="left:1858px;top:554px;width:24px;height:16px;border-radius:4px;border-color:#c9c9c9"></div><svg class="a" style="left:1861px;top:555px" width="15.5" height="15.5" viewBox="0 0 16 16"><use href="#gear"/></svg><div class="tri" style="left:1872px;top:563px;border-left-width:3.5px;border-right-width:3.5px;border-top-width:4px"></div><div class="t" style="left:1704.2px;top:578.90px;font-size:12.7px;color:#000;font-weight:normal;">Offset:</div><div class="cb" style="left:1773px;top:574px;width:108px;height:20px"></div><div class="t" style="left:1777.5px;top:579.30px;font-size:12.7px;color:#000;font-weight:normal;">0 V</div><div class="chev" style="left:1866px;top:579.0px"></div><div class="t" style="left:1704.2px;top:601.90px;font-size:12.7px;color:#000;font-weight:normal;">Gain:</div><div class="cb" style="left:1773px;top:597px;width:108px;height:20.299999999999955px"></div><div class="t" style="left:1777.5px;top:602.30px;font-size:12.7px;color:#000;font-weight:normal;">2.5 X</div><div class="chev" style="left:1866px;top:602.15px"></div></body></html>
